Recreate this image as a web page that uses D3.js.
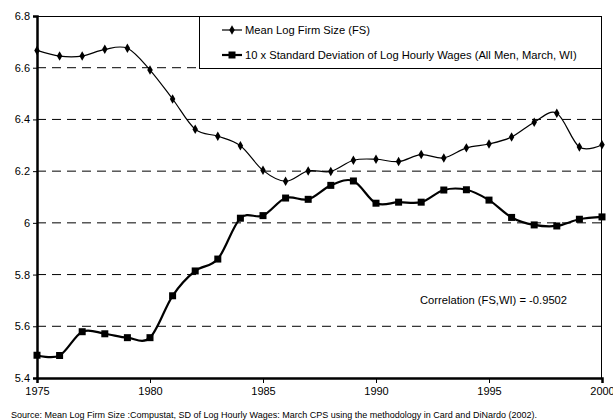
<!DOCTYPE html>
<html>

<head>
  <script src='https://cdn.jsdelivr.net/npm/d3@7/dist/d3.min.js'></script>
  <meta charset='utf-8'>
  <title></title>
  <style>
    body {
      margin: 0;
      background: #fff;
    }

    #chart {
      width: 613px;
      height: 420px;
    }

    text {
      font-family: 'Liberation Sans', Arial, sans-serif;
      fill: #000;
    }
  </style>
</head>

<body>
  <div id='chart'></div>
  <script>
    var years = d3.range(1975, 2001);
    var firmSize = [6.667, 6.645, 6.645, 6.671, 6.675, 6.591, 6.479, 6.362, 6.335, 6.298,
      6.203, 6.161, 6.201, 6.199, 6.242, 6.246, 6.237, 6.264, 6.251, 6.290,
      6.305, 6.332, 6.389, 6.424, 6.293, 6.302];
    var wageSD = [5.488, 5.487, 5.579, 5.571, 5.556, 5.556, 5.718, 5.814, 5.860, 6.018,
      6.028, 6.096, 6.091, 6.145, 6.162, 6.076, 6.080, 6.080, 6.127, 6.128,
      6.088, 6.021, 5.992, 5.988, 6.014, 6.023];
    var yTicks = [5.4, 5.6, 5.8, 6, 6.2, 6.4, 6.6, 6.8];
    var xTicks = [1975, 1980, 1985, 1990, 1995, 2000];
    var seriesNames = ['Mean Log Firm Size (FS)',
      '10 x Standard Deviation of Log Hourly Wages (All Men, March, WI)'];

    var width = 613,
      height = 420;
    var margin = { top: 16, right: 11, bottom: 42, left: 37 };

    var svg = d3.select('#chart')
      .append('svg')
      .attr('width', width)
      .attr('height', height);

    var w = width - margin.left - margin.right,
      h = height - margin.top - margin.bottom;

    var g = svg.append('g')
      .attr('transform', 'translate(' + margin.left + ',' + margin.top + ')');

    var x = d3.scaleLinear().domain([1975, 2000]).range([0, w]);
    var y = d3.scaleLinear().domain([5.4, 6.8]).range([h, 0]);

    // dashed gridlines
    g.selectAll('.grid')
      .data(yTicks.filter(function(d) { return d > 5.4 && d < 6.8; }))
      .enter()
      .append('line')
      .attr('x1', 0)
      .attr('x2', w)
      .attr('y1', function(d) { return y(d); })
      .attr('y2', function(d) { return y(d); })
      .attr('stroke', '#000')
      .attr('stroke-width', 1)
      .attr('stroke-dasharray', '9,6');

    // plot frame (top and right)
    g.append('line').attr('x1', 0).attr('x2', w).attr('y1', 0.5).attr('y2', 0.5)
      .attr('stroke', '#000').attr('stroke-width', 1);
    g.append('line').attr('x1', w - 0.5).attr('x2', w - 0.5).attr('y1', 0).attr('y2', h)
      .attr('stroke', '#000').attr('stroke-width', 1);

    // axes
    var yAxis = g.append('g')
      .call(d3.axisLeft(y).tickValues(yTicks).tickSize(4).tickPadding(3)
        .tickFormat(function(d) { return d3.format('.1f')(d).replace('.0', ''); }));
    var xAxis = g.append('g')
      .attr('transform', 'translate(0,' + h + ')')
      .call(d3.axisBottom(x).tickValues(xTicks).tickSize(5).tickPadding(4)
        .tickFormat(d3.format('d')));

    [yAxis, xAxis].forEach(function(a) {
      a.select('.domain').attr('stroke-width', 2.5);
      a.selectAll('text').attr('font-size', 11)
        .attr('font-family', "'Liberation Sans', Arial, sans-serif");
    });
    xAxis.selectAll('text').attr('dy', '0.71em');

    var curve = d3.curveCatmullRom.alpha(0);

    var line1 = d3.line()
      .x(function(d, i) { return x(years[i]); })
      .y(function(d) { return y(d); })
      .curve(curve);

    g.append('path')
      .datum(firmSize)
      .attr('d', line1)
      .attr('fill', 'none')
      .attr('stroke', '#000')
      .attr('stroke-width', 1.2);

    g.append('path')
      .datum(wageSD)
      .attr('d', line1)
      .attr('fill', 'none')
      .attr('stroke', '#000')
      .attr('stroke-width', 2.2);

    var diamond = d3.symbol().type(d3.symbolDiamond).size(26);

    g.selectAll('.fs')
      .data(firmSize)
      .enter()
      .append('path')
      .attr('d', diamond)
      .attr('transform', function(d, i) { return 'translate(' + x(years[i]) + ',' + y(d) + ')'; })
      .attr('fill', '#000');

    g.selectAll('.wi')
      .data(wageSD)
      .enter()
      .append('rect')
      .attr('x', function(d, i) { return x(years[i]) - 3.5; })
      .attr('y', function(d) { return y(d) - 3.5; })
      .attr('width', 7)
      .attr('height', 7)
      .attr('fill', '#000');

    // legend
    var legend = svg.append('g').attr('transform', 'translate(199,16)');
    legend.append('rect')
      .attr('x', 0.5).attr('y', 0.5)
      .attr('width', 602 - 199 - 1).attr('height', 52)
      .attr('fill', '#fff')
      .attr('stroke', '#000')
      .attr('stroke-width', 1);

    var rows = legend.selectAll('.row')
      .data(seriesNames)
      .enter()
      .append('g')
      .attr('transform', function(d, i) { return 'translate(0,' + (14 + i * 25) + ')'; });

    rows.append('line')
      .attr('x1', 23).attr('x2', 43).attr('y1', 0).attr('y2', 0)
      .attr('stroke', '#000')
      .attr('stroke-width', function(d, i) { return i ? 2.2 : 1.2; });

    rows.filter(function(d, i) { return i === 0; })
      .append('path')
      .attr('d', diamond)
      .attr('transform', 'translate(33,0)');

    rows.filter(function(d, i) { return i === 1; })
      .append('rect')
      .attr('x', 29.5).attr('y', -3.5).attr('width', 7).attr('height', 7);

    rows.append('text')
      .attr('x', 46)
      .attr('dy', '0.35em')
      .attr('font-size', 11.2)
      .text(function(d) { return d; });

    // annotation
    svg.append('text')
      .attr('x', 420)
      .attr('y', 300)
      .attr('dy', '0.35em')
      .attr('font-size', 11.2)
      .text('Correlation (FS,WI) = -0.9502');

    svg.append('text')
      .attr('x', 11)
      .attr('y', 415)
      .attr('dy', '0.35em')
      .attr('font-size', 9)
      .text('Source: Mean Log Firm Size :Compustat, SD of Log Hourly Wages: March CPS using the methodology in Card and DiNardo (2002).');
  </script>
</body>

</html>
